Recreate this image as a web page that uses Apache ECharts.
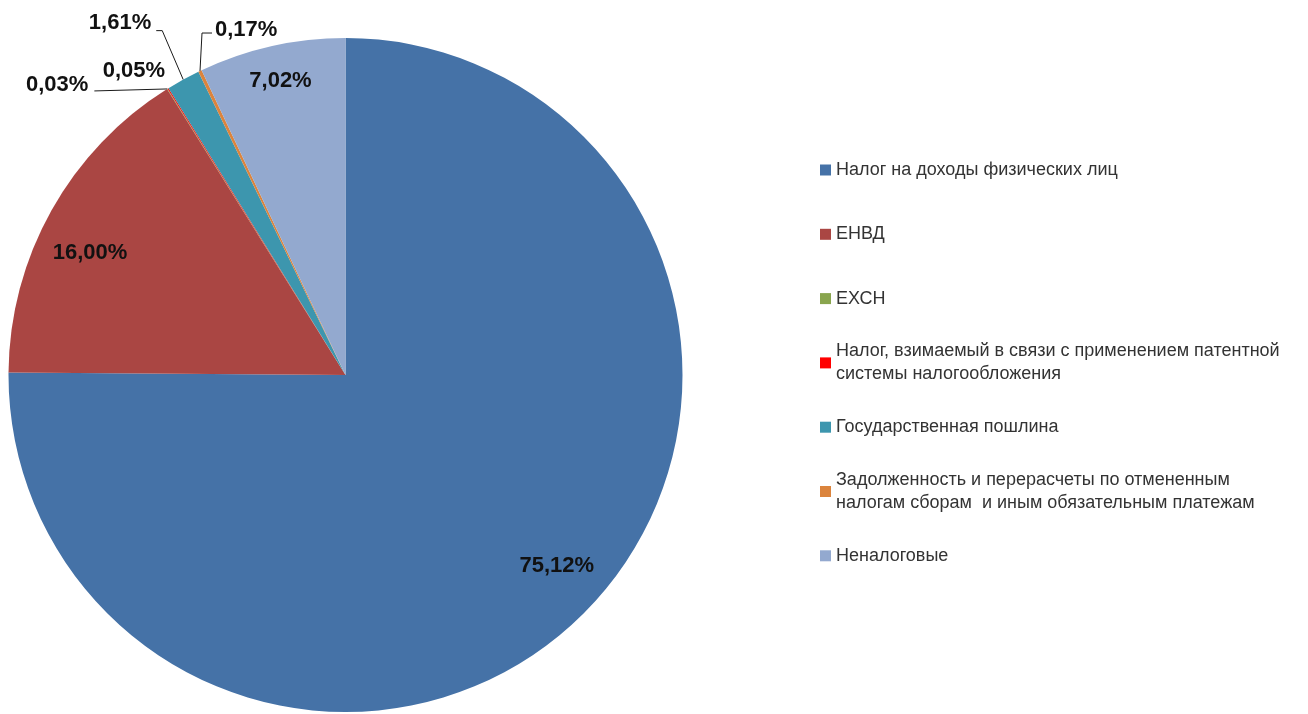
<!DOCTYPE html>
<html>
<head>
<meta charset="utf-8">
<script src="https://cdn.jsdelivr.net/npm/echarts@6/dist/echarts.min.js"></script>
<style>
html,body{margin:0;padding:0;background:#fff;}
#chart{width:1308px;height:714px;}
</style>
</head>
<body>
<div id="chart"></div>
<script>
// ---- data ----
var categories = [
  'Налог на доходы физических лиц',
  'ЕНВД',
  'ЕХСН',
  'Налог, взимаемый в связи с применением патентной\nсистемы налогообложения',
  'Государственная пошлина',
  'Задолженность и перерасчеты по отмененным\nналогам сборам  и иным обязательным платежам',
  'Неналоговые'
];
var shares = [75.12, 16.00, 0.03, 0.05, 1.61, 0.17, 7.02];
var colors = ['#4572A7', '#AA4643', '#89A54E', '#FF0000', '#3D96AE', '#DB843D', '#93A9CF'];

// which labels sit inside which ring, which sit outside with leader lines
var innerRingA = [0, 1];   // label at ~0.84 r
var innerRingB = [6];      // label at ~0.9 r
var outsideIdx = [2, 3, 4, 5];

// small nudges of inside labels (best-fit placement)
var insideNudge = {0: [9, -13], 1: [-5, 18], 6: [2, 5]};

// leader line / label offsets relative to the slice edge point computed by ECharts
var outsideLayout = {
  2: {line: [[-73, 2]], label: [-79, -4], align: 'right'},
  3: {line: [], label: [-3, -18], align: 'right'},
  4: {line: [[-21, -49], [-27, -49]], label: [-32, -57], align: 'right'},
  5: {line: [[2, -38], [12, -38]], label: [15, -41], align: 'left'}
};

function fmt(v) { return v.toFixed(2).replace('.', ',') + '%'; }

var CX = 345.5, CY = 375, R = 337;
var labelFont = {fontFamily: 'Liberation Sans', fontWeight: 'bold', fontSize: 22, color: '#111'};

function ringSeries(inner, showIdx) {
  return {
    type: 'pie',
    center: [CX, CY],
    radius: [R * inner, R],
    startAngle: 90,
    clockwise: true,
    silent: true,
    avoidLabelOverlap: false,
    z: 5,
    itemStyle: {color: 'transparent', borderWidth: 0},
    emphasis: {disabled: true},
    labelLine: {show: false},
    data: shares.map(function (v, i) {
      return {
        name: categories[i],
        value: v,
        label: Object.assign({show: showIdx.indexOf(i) >= 0, position: 'inside', formatter: fmt(v)}, labelFont)
      };
    }),
    labelLayout: function (params) {
      var n = insideNudge[params.dataIndex];
      return n ? {dx: n[0], dy: n[1]} : {};
    }
  };
}

var LH = 23;
var legendData = categories.map(function (n) {
  var twoLine = n.indexOf('\n') >= 0;
  return {
    name: n,
    textStyle: {padding: twoLine ? [LH, 0, 0, 0] : [LH, 0, LH, 0]}
  };
});

var option = {
  animation: false,
  color: colors,
  legend: {
    orient: 'vertical',
    left: 820,
    top: 135.5,
    padding: 0,
    itemGap: -4.7,
    itemWidth: 11,
    itemHeight: 11,
    icon: 'rect',
    selectedMode: false,
    textStyle: {fontFamily: 'Liberation Sans', fontSize: 18, color: '#333', lineHeight: LH},
    data: legendData
  },
  series: [
    {
      type: 'pie',
      center: [CX, CY],
      radius: R,
      startAngle: 90,
      clockwise: true,
      avoidLabelOverlap: false,
      silent: true,
      itemStyle: {borderWidth: 0},
      emphasis: {disabled: true},
      labelLine: {show: true, length: 10, length2: 10, lineStyle: {color: '#1a1a1a', width: 1}},
      data: shares.map(function (v, i) {
        var out = outsideIdx.indexOf(i) >= 0;
        return {
          name: categories[i],
          value: v,
          label: Object.assign({show: out, position: 'outside', formatter: fmt(v)}, labelFont),
          labelLine: {show: out}
        };
      }),
      labelLayout: function (params) {
        var cfg = outsideLayout[params.dataIndex];
        if (!cfg || !params.labelLinePoints) return {};
        var p = params.labelLinePoints[0];
        var pts = [[p[0], p[1]]];
        if (cfg.line.length === 0) pts.push([p[0], p[1]]);
        cfg.line.forEach(function (o) { pts.push([p[0] + o[0], p[1] + o[1]]); });
        return {
          x: p[0] + cfg.label[0],
          y: p[1] + cfg.label[1],
          align: cfg.align,
          verticalAlign: 'middle',
          labelLinePoints: pts
        };
      }
    },
    ringSeries(0.686, innerRingA),
    ringSeries(0.8, innerRingB)
  ]
};

var chart = echarts.init(document.getElementById('chart'));
chart.setOption(option);
</script>
</body>
</html>
